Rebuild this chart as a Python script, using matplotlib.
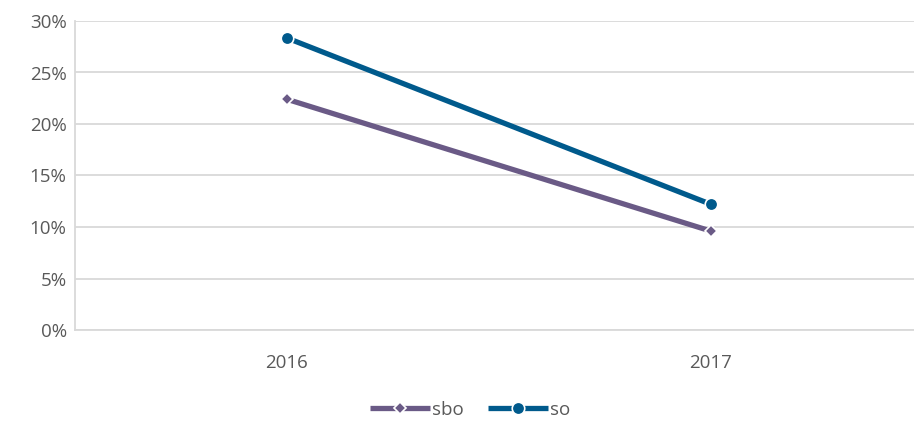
import matplotlib
matplotlib.use('Agg')
import matplotlib.pyplot as plt
from matplotlib.ticker import FuncFormatter

# data
years = ['2016', '2017']
sbo = [22.4, 9.6]
so = [28.35, 12.2]
y_ticks = [0, 5, 10, 15, 20, 25, 30]

SBO_COLOR = '#6A5A86'
SO_COLOR = '#005A8C'
GRID = '#D9D9D9'
TEXT = '#595959'

plt.rcParams['font.family'] = ['Open Sans', 'DejaVu Sans']

fig = plt.figure(figsize=(9.14, 4.23), dpi=100)
# right edge of the plot runs past the image border, as in the reference
ax = fig.add_axes([75 / 914, (423 - 330) / 423, 848 / 914, 309 / 423])

x = list(range(len(years)))
ax.plot(x, sbo, color=SBO_COLOR, lw=3.8, marker='D', ms=6.5,
        mec='white', mew=1.2, label='sbo', solid_capstyle='butt', zorder=3)
ax.plot(x, so, color=SO_COLOR, lw=3.8, marker='o', ms=9,
        mec='white', mew=1.2, label='so', solid_capstyle='butt', zorder=3)

ax.set_xlim(-0.5, len(years) - 0.5)
ax.set_ylim(0, 30)
ax.set_yticks(y_ticks)
ax.yaxis.set_major_formatter(FuncFormatter(lambda v, _: f'{v:.0f}%'))
ax.set_xticks(x)
ax.set_xticklabels(years)

ax.grid(axis='y', color=GRID, lw=1.3)
ax.set_axisbelow(True)
for side in ['top', 'right']:
    ax.spines[side].set_visible(False)
for side in ['left', 'bottom']:
    ax.spines[side].set_color(GRID)
    ax.spines[side].set_linewidth(1.3)
ax.tick_params(axis='both', length=0, colors=TEXT, labelsize=13.5)
ax.tick_params(axis='y', pad=6)
ax.tick_params(axis='x', pad=17)

leg = fig.legend(loc='center', bbox_to_anchor=(470 / 914, 1 - 410 / 423),
                 ncol=2, frameon=False, fontsize=13.5, handlelength=3.2,
                 columnspacing=1.3, handletextpad=0.1)
for t in leg.get_texts():
    t.set_color(TEXT)

fig.savefig('out.png', dpi=100)
